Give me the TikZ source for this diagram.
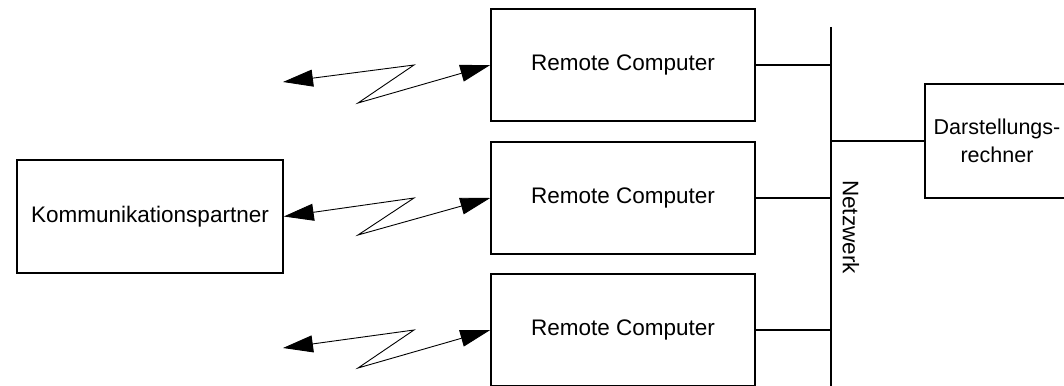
\documentclass[tikz,border=0pt]{standalone}
\usepackage{fontspec}
\setmainfont{Liberation Sans}
\usetikzlibrary{arrows.meta}
\begin{document}
\begin{tikzpicture}[x=1pt,y=-1pt,
  box/.style={draw,line width=1.5pt,inner sep=0pt,font=\fontsize{22.5}{28}\selectfont,align=center},
  remote/.style={box,minimum width=264pt,minimum height=112pt},
  wire/.style={line width=1.5pt},
  radio/.style={line width=0.9pt,{Triangle[length=30pt,width=17pt]}-{Triangle[length=30pt,width=17pt]}}]
\useasboundingbox (0,0) rectangle (1064,385);
\node[box,minimum width=266pt,minimum height=113pt] (kp) at (150,216.5) {Kommunikationspartner};
\node[remote] (r1) at (623,65) {Remote Computer};
\node[remote] (r2) at (623,198) {Remote Computer};
\node[remote] (r3) at (623,330) {Remote Computer};
\node[box,minimum width=150pt,minimum height=114pt,font=\fontsize{21.5}{28}\selectfont] (dr) at (1000,141) {};
\node[font=\fontsize{21.5}{28}\selectfont,align=center,inner sep=0pt] (drt) at (997,141) {Darstellungs-\\rechner};
\coordinate (ntop) at (831,27);
\coordinate (nbot) at (831,390);
\draw[wire] (ntop) -- (nbot);
\node[font=\fontsize{22.5}{26}\selectfont,rotate=-90] (nw) at (851,227) {Netzwerk};
\draw[wire] (r1.east) -- (r1.east -| ntop);
\draw[wire] (r2.east) -- (r2.east -| ntop);
\draw[wire] (r3.east) -- (r3.east -| ntop);
\draw[wire] (dr.west) -- (dr.west -| ntop);
% radio links
\coordinate (t1) at (283,82);
\coordinate (a1) at (414,65);
\coordinate (b1) at (358,103);
\draw[radio] (t1) -- (a1) -- (b1) -- (r1.west);
\coordinate (a2) at (414,198);
\coordinate (b2) at (358,235);
\draw[radio] (kp.east) -- (a2) -- (b2) -- (r2.west);
\coordinate (t3) at (283,348);
\coordinate (a3) at (414,330);
\coordinate (b3) at (358,368);
\draw[radio] (t3) -- (a3) -- (b3) -- (r3.west);
\end{tikzpicture}
\end{document}
